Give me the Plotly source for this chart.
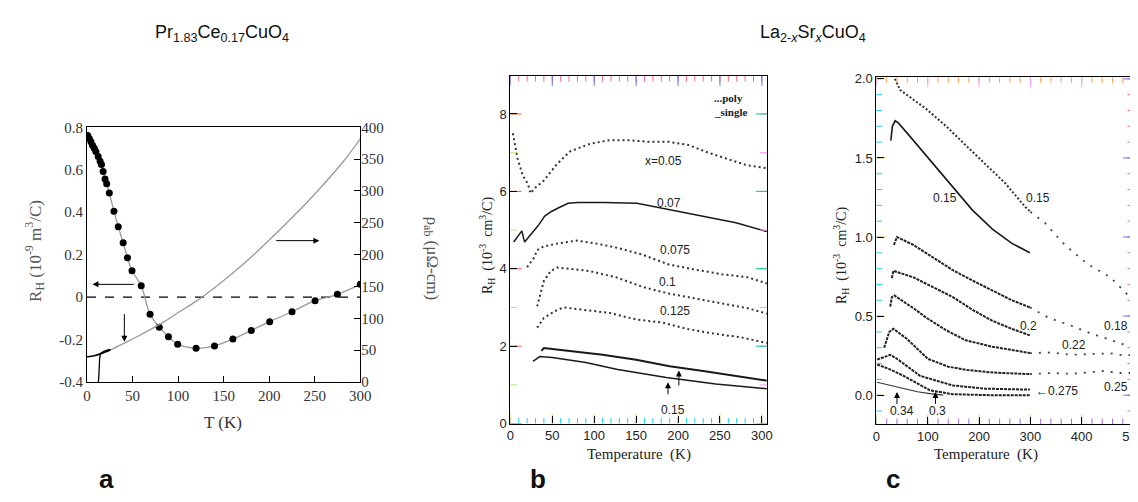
import plotly.graph_objects as go

# ---------------- Panel a: Pr1.83Ce0.17CuO4 ----------------
T_a = [0.7, 2.5, 4.3, 6.1, 7.9, 9.7, 12.3, 14.4, 15.9, 17.7, 19.8, 21.6, 24.5, 29.6, 34.3,
       39.7, 44.4, 49.4, 59.5, 69.2, 79.3, 89.4, 99.5, 119.7, 139.9, 160.1, 180.3, 200.5,
       225, 250.3, 274.8, 300]
RH_a = [0.762, 0.747, 0.732, 0.716, 0.701, 0.686, 0.663, 0.640, 0.625, 0.592, 0.557, 0.534,
        0.491, 0.404, 0.332, 0.256, 0.185, 0.124, 0.053, -0.081, -0.142, -0.187, -0.222,
        -0.241, -0.230, -0.198, -0.157, -0.116, -0.069, -0.017, 0.013, 0.060]
T_rho = [26, 41, 60, 84, 100, 120, 140, 160, 180, 200, 220, 240, 260, 280, 300]
rho = [50.6, 61, 75, 94, 109, 127, 148, 171, 196, 223, 251, 280, 311, 344, 382]
T_rho_field = [0, 5, 10, 15, 20, 26]
rho_field = [39.5, 40.5, 42, 44.5, 47, 50.6]
T_rho_zero = [12.5, 13, 13.5, 14, 15, 17, 20, 25]
rho_zero = [0, 10, 25, 38, 44, 47, 49, 51]

# ---------------- Panel b: La2-xSrxCuO4 (low x) ----------------
T_b005 = [3, 8.6, 15, 21, 24, 30, 40, 55, 71, 95, 118, 142, 165, 189, 212, 236, 260, 283, 306]
R_b005 = [7.5, 6.85, 6.4, 6.19, 5.95, 6.1, 6.28, 6.69, 7.03, 7.23, 7.32, 7.32, 7.28, 7.28, 7.2,
          7.0, 6.83, 6.67, 6.6]
T_b007 = [4, 13.7, 17, 25.5, 33, 41, 49, 57, 69, 80, 112, 151, 190, 229, 269, 306]
R_b007 = [4.69, 4.98, 4.69, 4.9, 5.11, 5.36, 5.48, 5.57, 5.69, 5.71, 5.71, 5.69, 5.53, 5.36,
          5.19, 4.96]
T_b0075 = [20, 28, 32, 40, 56, 79, 103, 130, 158, 189, 220, 252, 283, 306]
R_b0075 = [4.04, 4.28, 4.48, 4.58, 4.65, 4.73, 4.65, 4.53, 4.36, 4.11, 3.98, 3.86, 3.78, 3.62]
T_b01 = [32, 36, 40, 48, 56, 71, 95, 126, 158, 189, 220, 252, 283, 306]
R_b01 = [3.03, 3.36, 3.69, 3.94, 4.03, 4.0, 3.94, 3.78, 3.53, 3.36, 3.23, 3.11, 2.98, 2.84]
T_b0125 = [32, 40, 56, 64, 87, 118, 150, 181, 212, 244, 275, 306]
R_b0125 = [2.48, 2.73, 2.94, 3.0, 2.94, 2.86, 2.69, 2.61, 2.44, 2.32, 2.23, 2.08]
T_b015u = [37, 40, 50, 80, 110, 150, 190, 230, 268, 306]
R_b015u = [1.88, 1.95, 1.93, 1.86, 1.78, 1.65, 1.48, 1.36, 1.23, 1.11]
T_b015l = [27, 31, 35, 50, 90, 128, 186, 245, 306]
R_b015l = [1.61, 1.68, 1.73, 1.71, 1.58, 1.40, 1.19, 1.02, 0.90]

# ---------------- Panel c: La2-xSrxCuO4 (high x) ----------------
T_c015p = [36, 46, 97, 136, 174, 213, 251, 290, 300]
R_c015p = [2.0, 1.93, 1.81, 1.70, 1.58, 1.46, 1.34, 1.19, 1.16]
T_c015p_hi = [300, 328, 367, 411, 456, 494, 500]
R_c015p_hi = [1.16, 1.09, 0.95, 0.83, 0.745, 0.62, 0.60]
T_c015s = [28, 31, 36.5, 43, 59, 85, 111, 149, 187, 226, 264, 299]
R_c015s = [1.61, 1.70, 1.735, 1.72, 1.66, 1.56, 1.46, 1.32, 1.17, 1.05, 0.96, 0.90]
T_c018 = [34, 40, 72, 110, 149, 187, 226, 264, 299]
R_c018 = [0.95, 1.0, 0.95, 0.87, 0.79, 0.725, 0.66, 0.60, 0.555]
T_c018_hi = [299, 335, 379, 418, 456, 482, 500]
R_c018_hi = [0.555, 0.49, 0.44, 0.39, 0.35, 0.32, 0.31]
T_c02 = [30, 33, 72, 97, 149, 187, 226, 264, 299]
R_c02 = [0.74, 0.786, 0.745, 0.704, 0.62, 0.54, 0.47, 0.419, 0.378]
T_c022 = [27, 30, 35, 72, 97, 136, 174, 226, 264, 299]
R_c022 = [0.56, 0.62, 0.63, 0.55, 0.49, 0.41, 0.347, 0.306, 0.286, 0.266]
T_c022_hi = [299, 341, 380, 418, 456, 482, 500]
R_c022_hi = [0.266, 0.27, 0.255, 0.26, 0.265, 0.25, 0.255]
T_c025 = [15, 25, 33, 59, 100, 140, 175, 226, 299]
R_c025 = [0.30, 0.40, 0.42, 0.357, 0.23, 0.18, 0.16, 0.143, 0.133]
T_c025_hi = [299, 340, 380, 420, 444, 470, 500]
R_c025_hi = [0.133, 0.14, 0.135, 0.145, 0.153, 0.14, 0.14]
T_c0275 = [1.3, 15, 27, 40, 85, 149, 213, 299]
R_c0275 = [0.225, 0.24, 0.255, 0.23, 0.122, 0.061, 0.041, 0.035]
T_c03 = [1.3, 25, 53, 104, 149, 220, 299]
R_c03 = [0.194, 0.165, 0.122, 0.031, 0.006, 0.0, 0.0]
T_c034 = [1.3, 25, 53, 80, 104, 130]
R_c034 = [0.082, 0.065, 0.041, 0.022, 0.01, 0.0]

# tick positions
xt_b_major = [0, 50, 100, 150, 200, 250, 300]
xt_b_minor = list(range(0, 301, 10))
yt_b_major = [0, 2, 4, 6, 8]
yt_b_minor = [0, 1, 2, 3, 4, 5, 6, 7, 8]
xt_c_major = [0, 100, 200, 300, 400, 500]
xt_c_minor = list(range(0, 501, 20))
yt_c_major = [0, 0.5, 1.0, 1.5, 2.0]
yt_c_labels = ["0.0", "0.5", "1.0", "1.5", "2.0"]
yt_c_minor = [-0.1, 0, 0.1, 0.2, 0.3, 0.4, 0.5, 0.6, 0.7, 0.8, 0.9, 1.0, 1.1, 1.2, 1.3, 1.4,
              1.5, 1.6, 1.7, 1.8, 1.9, 2.0]

W, H = 1138, 502
def px(X):
    return X / W
def py(Y):
    return 1 - Y / H

SERIF = "Liberation Serif"
SANS = "Liberation Sans"

rng_xb, rng_yb = [0, 306], [0, 8.98]
rng_xc, rng_yc = [0, 500], [-0.184, 2.01]

fig = go.Figure()

# panel a traces
fig.add_trace(go.Scatter(x=[0, 300], y=[0, 0], mode="lines",
                         line=dict(color="black", width=1.2, dash="dash"),
                         xaxis="x", yaxis="y", hoverinfo="skip"))
fig.add_trace(go.Scatter(x=T_rho, y=rho, mode="lines", line=dict(color="#9a9a9a", width=1.3,
                         shape="spline"), xaxis="x", yaxis="y2"))
fig.add_trace(go.Scatter(x=T_rho_field, y=rho_field, mode="lines",
                         line=dict(color="black", width=1.6, shape="spline"),
                         xaxis="x", yaxis="y2"))
fig.add_trace(go.Scatter(x=T_rho_zero, y=rho_zero, mode="lines",
                         line=dict(color="black", width=1.3, shape="spline"),
                         xaxis="x", yaxis="y2"))
fig.add_trace(go.Scatter(x=T_a, y=RH_a, mode="lines+markers",
                         line=dict(color="#9a9a9a", width=1.3, shape="spline"),
                         marker=dict(color="black", size=7),
                         xaxis="x", yaxis="y"))

# panel b traces
poly_b = dict(color="#333333", width=2, dash="2px,3px")
single = dict(color="#1a1a1a", width=1.5)
for Tv, Rv, st in [(T_b005, R_b005, poly_b), (T_b007, R_b007, single),
                   (T_b0075, R_b0075, poly_b), (T_b01, R_b01, poly_b),
                   (T_b0125, R_b0125, poly_b), (T_b015u, R_b015u, dict(color="#1a1a1a", width=2)),
                   (T_b015l, R_b015l, single)]:
    fig.add_trace(go.Scatter(x=Tv, y=Rv, mode="lines", line=st, xaxis="x3", yaxis="y3"))

# panel c traces
dense = dict(color="#222222", width=2, dash="3px,1px")
sparse = dict(color="#444444", width=1.8, dash="2px,7px")
for Tv, Rv, st in [(T_c015p, R_c015p, dict(color="#333333", width=2, dash="2px,2px")),
                   (T_c015p_hi, R_c015p_hi, sparse),
                   (T_c015s, R_c015s, dict(color="#1a1a1a", width=1.6)),
                   (T_c018, R_c018, dense), (T_c018_hi, R_c018_hi, sparse),
                   (T_c02, R_c02, dense),
                   (T_c022, R_c022, dense), (T_c022_hi, R_c022_hi, sparse),
                   (T_c025, R_c025, dense), (T_c025_hi, R_c025_hi, sparse),
                   (T_c0275, R_c0275, dense), (T_c03, R_c03, dense),
                   (T_c034, R_c034, dict(color="#333333", width=1.1))]:
    fig.add_trace(go.Scatter(x=Tv, y=Rv, mode="lines", line=st, xaxis="x4", yaxis="y4"))

# tick marks on the frame edges of panels b and c, as line markers centred on the frame
# (the half outside the plot area is clipped, leaving inside-pointing ticks)
def edge_ticks(xa, ya, xr, yr, xvals, yvals, xlen, ylen):
    for yv in (yr[0], yr[1]):
        fig.add_trace(go.Scatter(x=xvals, y=[yv] * len(xvals), mode="markers", xaxis=xa,
                                 yaxis=ya, hoverinfo="skip", cliponaxis=True,
                                 marker=dict(symbol="line-ns-open", size=2 * xlen,
                                             line=dict(color="black", width=1))))
    for xv in (xr[0], xr[1]):
        fig.add_trace(go.Scatter(x=[xv] * len(yvals), y=yvals, mode="markers", xaxis=xa,
                                 yaxis=ya, hoverinfo="skip", cliponaxis=True,
                                 marker=dict(symbol="line-ew-open", size=2 * ylen,
                                             line=dict(color="black", width=1))))

edge_ticks("x3", "y3", rng_xb, rng_yb, xt_b_minor, yt_b_minor, 4, 5)
edge_ticks("x3", "y3", rng_xb, rng_yb, xt_b_major, yt_b_major, 7, 8)
edge_ticks("x4", "y4", rng_xc, rng_yc, xt_c_minor, yt_c_minor, 4, 4)
edge_ticks("x4", "y4", rng_xc, rng_yc, xt_c_major, yt_c_major, 7, 7)

ann = []
def txt(x, y, s, xref="paper", yref="paper", size=12, family=SANS, color="#222",
        angle=0, xanchor="center", yanchor="middle"):
    ann.append(dict(x=x, y=y, xref=xref, yref=yref, text=s, showarrow=False,
                    font=dict(size=size, family=family, color=color), textangle=angle,
                    xanchor=xanchor, yanchor=yanchor))

def arrow(x, y, ax, ay, xr, yr, color="black", width=1):
    ann.append(dict(x=x, y=y, ax=ax, ay=ay, xref=xr, yref=yr, axref=xr, ayref=yr,
                    text="", showarrow=True, arrowhead=2, arrowsize=1.2,
                    arrowwidth=width, arrowcolor=color))

# titles
txt(px(213), py(18), "Pr<sub>1.83</sub>Ce<sub>0.17</sub>CuO<sub>4</sub>", size=18, color="#111")
txt(px(812), py(18), "La<sub>2-<i>x</i></sub>Sr<sub><i>x</i></sub>CuO<sub>4</sub>", size=18, color="#111")
# panel letters
for X, s in [(96, "a"), (533, "b"), (893, "c")]:
    txt(px(X), py(478), "<b>%s</b>" % s, size=26, color="#111")

# panel a axis titles
txt(px(23), py(243), "R<sub>H</sub> (10<sup>-9</sup> m<sup>3</sup>/C)", size=17, family=SERIF,
    color="#555", angle=-90)
txt(px(425), py(250), "ρ<sub>ab</sub> (μΩ-cm)", size=17, family=SERIF, color="#555", angle=90)
txt(px(214), py(420), "T (K)", size=17, family=SERIF, color="#333")
# panel a arrows
arrow(6, 0.06, 53, 0.06, "x", "y")
arrow(255, 222, 206, 222, "x", "y2")
arrow(41, 63, 41, 109, "x", "y2")

# panel b / c texts
txt(px(482), py(237), "R<sub>H</sub>  (10<sup>-3</sup>  cm<sup>3</sup>/C)", size=14,
    family=SERIF, color="#222", angle=-90)
txt(px(635), py(453), "Temperature  (K)", size=15, family=SERIF, color="#222")
txt(px(987), py(453), "Temperature  (K)", size=15, family=SERIF, color="#222")
txt(px(840), py(247), "R<sub>H</sub>  (10<sup>-3</sup>  cm<sup>3</sup>/C)", size=14,
    family=SERIF, color="#222", angle=-90)
txt(px(709), py(85), "<b>...poly</b>", size=11, family=SERIF, xanchor="left")
txt(px(709), py(99), "<b>_single</b>", size=11, family=SERIF, xanchor="left")
for T, v, s in [(183, 6.78, "x=0.05"), (189, 5.7, "0.07"), (196, 4.48, "0.075"),
                (188, 3.65, "0.1"), (196, 2.9, "0.125"), (194, 0.36, "0.15")]:
    txt(T, v, s, xref="x3", yref="y3", size=12)
arrow(188, 1.07, 188, 0.72, "x3", "y3")
arrow(201, 1.37, 201, 0.95, "x3", "y3")

for T, v, s in [(133, 1.247, "0.15"), (314, 1.247, "0.15"), (297, 0.44, "0.2"),
                (467, 0.44, "0.18"), (384, 0.317, "0.22"), (467, 0.053, "0.25"),
                (352, 0.025, "←0.275"), (49, -0.10, "0.34"), (118, -0.10, "0.3")]:
    txt(T, v, s, xref="x4", yref="y4", size=12)
arrow(40, 0.02, 40, -0.065, "x4", "y4")
arrow(115, 0.02, 115, -0.065, "x4", "y4")

font_a = dict(family=SERIF, size=15, color="#333")
font_bc = dict(family=SANS, size=13, color="#222")

def main_axis(domain, rng, anchor, vals, texts=None):
    d = dict(domain=domain, range=rng, anchor=anchor, tickmode="array", tickvals=vals,
             ticks="inside", ticklen=7, tickcolor="black",
             showline=True, linecolor="black", linewidth=1.2, mirror=True,
             showgrid=False, zeroline=False, tickfont=font_bc)
    if texts is not None:
        d["ticktext"] = texts
    return d

fig.update_layout(
    width=W, height=H, margin=dict(l=0, r=0, t=0, b=0),
    paper_bgcolor="white", plot_bgcolor="white", showlegend=False,
    annotations=ann,
    xaxis=dict(domain=[px(76), px(353)], range=[0, 300], anchor="y",
               tickvals=list(range(0, 301, 50)), ticks="inside", ticklen=6, tickcolor="black",
               showline=True, linecolor="black", linewidth=1.2, mirror=True,
               showgrid=False, zeroline=False, tickfont=font_a),
    yaxis=dict(domain=[py(378), py(115)], range=[-0.4, 0.8], anchor="x",
               tickvals=[-0.4, -0.2, 0, 0.2, 0.4, 0.6, 0.8],
               ticktext=["-0.4", "-0.2", "0", "0.2", "0.4", "0.6", "0.8"],
               mirror=True, tickfont=font_a, showline=True, linecolor="black", linewidth=1.2,
               showgrid=False, zeroline=False, ticks=""),
    yaxis2=dict(overlaying="y", side="right", range=[0, 400], anchor="x",
                tickvals=list(range(0, 401, 50)), ticks="inside", ticklen=6, tickcolor="black",
                showline=False, showgrid=False, zeroline=False, tickfont=font_a),
    xaxis3=main_axis([px(505), px(765)], rng_xb, "y3", xt_b_major),
    yaxis3=main_axis([py(421), py(62)], rng_yb, "x3", yt_b_major),
    xaxis4=main_axis([px(876), px(1136)], rng_xc, "y4", xt_c_major),
    yaxis4=main_axis([py(421.7), py(63.3)], rng_yc, "x4", yt_c_major, yt_c_labels),
)

fig.write_html("out.html")
